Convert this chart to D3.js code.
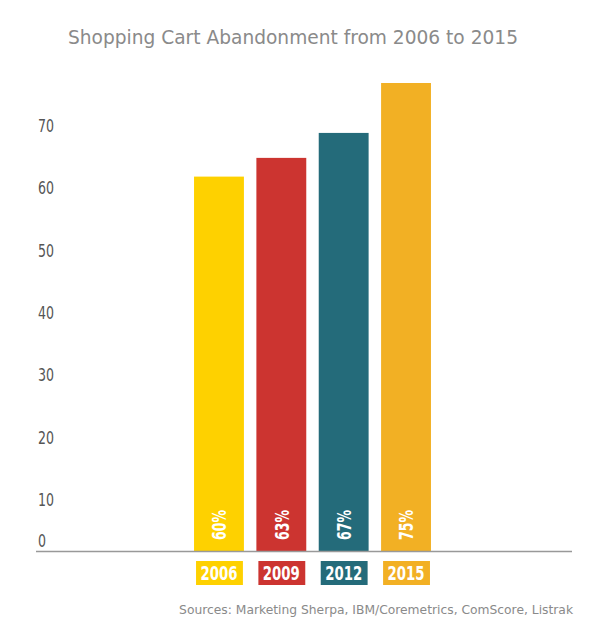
<!DOCTYPE html>
<html>
<head>
<meta charset="utf-8">
<script src="https://cdn.jsdelivr.net/npm/d3@7"></script>
<style>
  body { margin: 0; background: #fff; }
  .narrow { font-family: "DejaVu Sans", sans-serif; }
</style>
</head>
<body>
<svg width="607" height="630"></svg>
<script>
var years = ["2006", "2009", "2012", "2015"];
var rates = [60, 63, 67, 75];
var colors = ["#fed100", "#cc3430", "#246b7a", "#f2b024"];
var yTicks = [0, 10, 20, 30, 40, 50, 60, 70];

var svg = d3.select("svg"),
    width = +svg.attr("width"),
    height = +svg.attr("height");

var baseY = 551;

var x = d3.scaleBand()
    .domain(years)
    .range([187.8, 437.2])
    .paddingInner(0.2)
    .paddingOuter(0.1);

var y = d3.scaleLinear()
    .domain([0, 75])
    .range([baseY, baseY - 468]);

// title
svg.append("text")
    .attr("x", 293)
    .attr("y", 44)
    .attr("text-anchor", "middle")
    .attr("font-family", "Verdana, 'DejaVu Sans', sans-serif")
    .attr("font-size", 18.6)
    .attr("fill", "#8a8a8a")
    .text("Shopping Cart Abandonment from 2006 to 2015");

// y axis labels (no line, no ticks) - squeezed to look condensed
var yAxis = svg.append("g")
    .attr("transform", "translate(38,0)")
    .call(d3.axisLeft(y).tickValues(yTicks).tickSize(0).tickPadding(0));
yAxis.select(".domain").remove();
yAxis.selectAll("text")
    .attr("class", "narrow")
    .attr("text-anchor", "start")
    .attr("font-size", 17)
    .attr("font-weight", 500)
    .attr("fill", "#555")
    .attr("textLength", function(d) { return String(d).length * 8; })
    .attr("lengthAdjust", "spacingAndGlyphs")
    .attr("dy", function(d) { return d === 0 ? "-0.25em" : "1em"; });

// bars
var bars = svg.append("g");
bars.selectAll("rect")
  .data(rates)
  .enter().append("rect")
    .attr("x", function(d, i) { return x(years[i]); })
    .attr("y", function(d) { return y(d); })
    .attr("width", x.bandwidth())
    .attr("height", function(d) { return y(0) - y(d); })
    .attr("fill", function(d, i) { return colors[i]; });

// value labels inside bars, rotated
bars.selectAll("text")
  .data(rates)
  .enter().append("text")
    .attr("class", "narrow")
    .attr("transform", function(d, i) {
      return "translate(" + (x(years[i]) + x.bandwidth() / 2) + "," + (baseY - 26) + ") rotate(-90)";
    })
    .attr("x", -15)
    .attr("dy", "0.36em")
    .attr("font-size", 20)
    .attr("font-weight", "bold")
    .attr("fill", "#fff")
    .attr("textLength", 30)
    .attr("lengthAdjust", "spacingAndGlyphs")
    .text(function(d) { return d + "%"; });

// baseline
svg.append("line")
    .attr("x1", 36)
    .attr("x2", 572)
    .attr("y1", baseY + 0.5)
    .attr("y2", baseY + 0.5)
    .attr("stroke", "#999")
    .attr("stroke-width", 1.5);

// year boxes
var boxes = svg.append("g").selectAll("g")
  .data(years)
  .enter().append("g")
    .attr("transform", function(d) { return "translate(" + x(d) + ",561)"; });

boxes.append("rect")
    .attr("x", 2)
    .attr("width", x.bandwidth() - 3)
    .attr("height", 24)
    .attr("fill", function(d, i) { return colors[i]; });

boxes.append("text")
    .attr("class", "narrow")
    .attr("x", x.bandwidth() / 2 - 18.5)
    .attr("y", 12)
    .attr("dy", "0.36em")
    .attr("font-size", 20)
    .attr("font-weight", "bold")
    .attr("fill", "#fff")
    .attr("textLength", 37)
    .attr("lengthAdjust", "spacingAndGlyphs")
    .text(function(d) { return d; });

// source
svg.append("text")
    .attr("x", 573)
    .attr("y", 614)
    .attr("text-anchor", "end")
    .attr("font-family", "Verdana, 'DejaVu Sans', sans-serif")
    .attr("font-size", 12.3)
    .attr("fill", "#8a8a8a")
    .text("Sources: Marketing Sherpa, IBM/Coremetrics, ComScore, Listrak");
</script>
</body>
</html>
